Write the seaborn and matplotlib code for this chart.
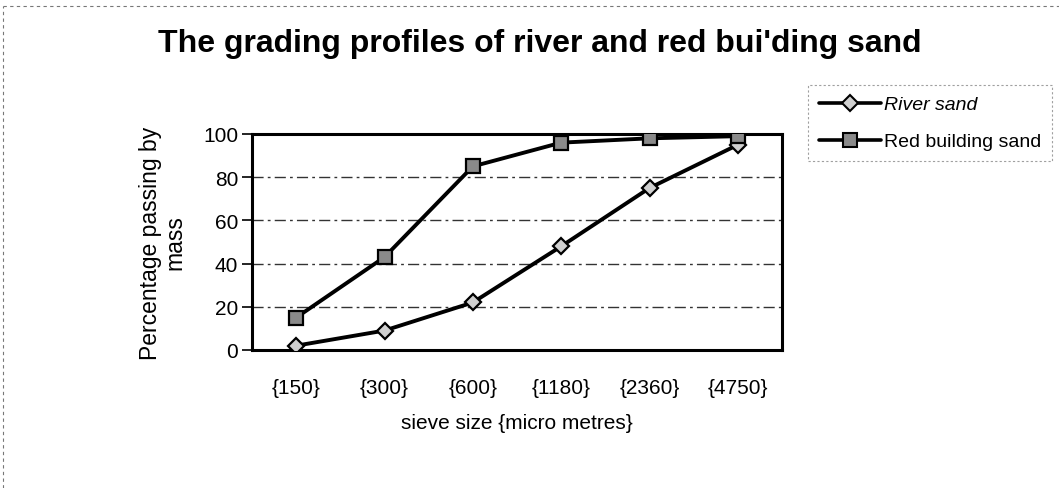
import matplotlib
matplotlib.use("Agg")
import matplotlib.pyplot as plt
import seaborn as sns
import pandas as pd
from matplotlib.lines import Line2D

categories = ["{150}", "{300}", "{600}", "{1180}", "{2360}", "{4750}"]
river_sand = [2, 9, 22, 48, 75, 95]
red_building_sand = [15, 43, 85, 96, 98, 99]
y_ticks = [0, 20, 40, 60, 80, 100]

sns.set_theme(style="white")
plt.rcParams['font.family'] = ['Liberation Sans', 'DejaVu Sans']
plt.rcParams['text.color'] = 'black'
plt.rcParams['axes.labelcolor'] = 'black'
plt.rcParams['xtick.color'] = 'black'
plt.rcParams['ytick.color'] = 'black'

df = pd.DataFrame({
    "sieve": categories * 2,
    "pct": river_sand + red_building_sand,
    "series": ["River sand"] * len(categories) + ["Red building sand"] * len(categories),
})
df["x"] = list(range(len(categories))) * 2

fig = plt.figure(figsize=(10.59, 4.89), dpi=100)
ax = fig.add_axes([252 / 1059, 1 - 351 / 489, (782 - 252) / 1059, (351 - 135) / 489])

styles = {
    "River sand": dict(marker="D", ms=8.5, mfc="#d0d0d0"),
    "Red building sand": dict(marker="s", ms=10.5, mfc="#8a8a8a"),
}
for name, sty in styles.items():
    sub = df[df["series"] == name]
    sns.lineplot(data=sub, x="x", y="pct", ax=ax, color="black", lw=2.8,
                 marker=sty["marker"], markersize=sty["ms"],
                 markerfacecolor=sty["mfc"], markeredgecolor="black",
                 markeredgewidth=1.6, legend=False, zorder=3)

ax.set_xlim(-0.5, len(categories) - 0.5)
ax.set_ylim(0, 100)
ax.set_xticks(range(len(categories)))
ax.set_xticklabels(categories, fontsize=15)
ax.set_yticks(y_ticks)
ax.set_yticklabels([str(v) for v in y_ticks], fontsize=15)
ax.tick_params(axis="x", length=0, pad=20)
ax.tick_params(axis="y", length=7, width=1.2, direction="out", left=True, pad=3)
for sp in ax.spines.values():
    sp.set_color("black")
    sp.set_linewidth(2.2)
for v in y_ticks[1:-1]:
    ax.axhline(v, color="#333333", lw=1, ls=(0, (8, 3, 2, 3)), zorder=1)

ax.set_xlabel("sieve size {micro metres}", fontsize=15, labelpad=12)
ax.set_ylabel("Percentage passing by\nmass", fontsize=16.5, labelpad=12, linespacing=1.05)

fig.text(540 / 1059, 1 - 44 / 489, "The grading profiles of river and red bui'ding sand",
         fontsize=23, fontweight="bold", ha="center", va="center")

handles = [
    Line2D([], [], color="black", lw=2.6, marker="D", ms=8.5, mfc="#d0d0d0", mec="black", mew=1.5),
    Line2D([], [], color="black", lw=2.6, marker="s", ms=10, mfc="#8a8a8a", mec="black", mew=1.5),
]
leg = fig.legend(handles, ["River sand", "Red building sand"], loc="upper left",
                 bbox_to_anchor=(808 / 1059, 1 - 86 / 489), frameon=True, fontsize=14,
                 handlelength=3.2, handletextpad=0.15, borderpad=0.55, labelspacing=1.0,
                 fancybox=False, borderaxespad=0)
leg.get_frame().set_edgecolor("#888888")
leg.get_frame().set_linestyle((0, (2, 2)))
leg.get_frame().set_linewidth(0.8)
leg.get_texts()[0].set_fontstyle("italic")

fig.add_artist(Line2D([0.003, 1.0], [0.985, 0.985], transform=fig.transFigure,
                      color="#777777", lw=0.8, ls=(0, (3, 3))))
fig.add_artist(Line2D([0.003, 0.003], [0.0, 0.985], transform=fig.transFigure,
                      color="#777777", lw=0.8, ls=(0, (3, 3))))

fig.savefig("out.png", dpi=100, facecolor="white")
